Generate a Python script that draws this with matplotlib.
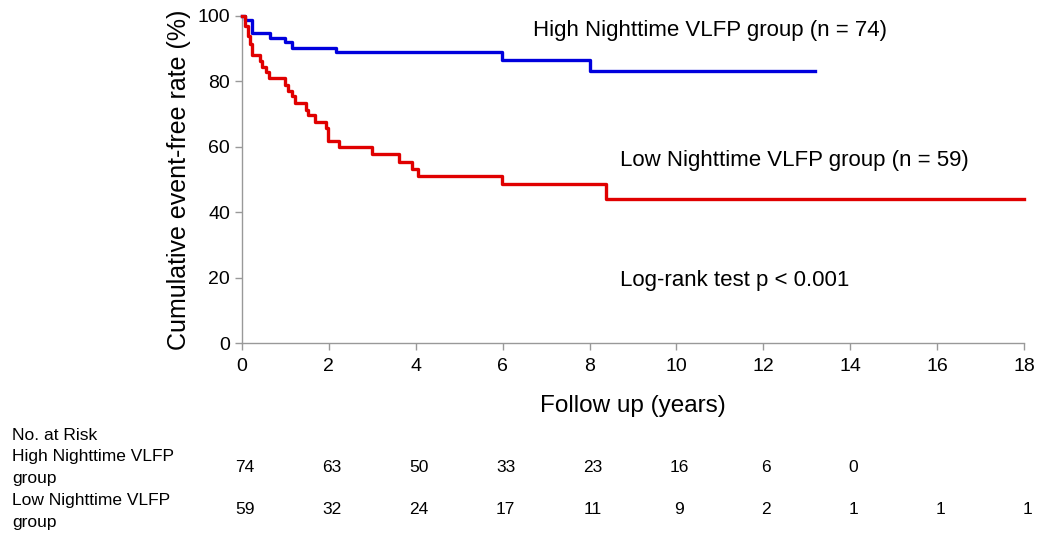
import matplotlib
matplotlib.use("Agg")
import matplotlib.pyplot as plt
import matplotlib.transforms as mtransforms

plt.rcParams['font.family'] = ['Liberation Sans', 'DejaVu Sans']

# Kaplan-Meier step data (time in years, event-free %)
high_times = [0, 0.06, 0.24, 0.65, 0.99, 1.14, 2.16, 5.98, 8.0]
high_surv = [100, 98.8, 94.7, 93.2, 91.9, 90.3, 89.0, 86.5, 83.1]
high_end = 13.18

low_times = [0, 0.06, 0.14, 0.18, 0.22, 0.41, 0.47, 0.55, 0.62, 0.98, 1.07, 1.14,
             1.23, 1.48, 1.52, 1.69, 1.93, 1.98, 2.23, 2.99, 3.62, 3.91, 4.06, 5.98, 8.38]
low_surv = [100, 97.0, 93.9, 91.4, 88.0, 86.3, 84.5, 82.9, 80.9, 78.9, 77.1, 75.4,
            73.4, 71.3, 69.6, 67.6, 65.6, 61.7, 59.8, 57.9, 55.5, 53.3, 51.0, 48.7, 44.1]
low_end = 18.0

x_ticks = [0, 2, 4, 6, 8, 10, 12, 14, 16, 18]
y_ticks = [0, 20, 40, 60, 80, 100]

risk_times_high = [0, 2, 4, 6, 8, 10, 12, 14]
risk_high = [74, 63, 50, 33, 23, 16, 6, 0]
risk_times_low = [0, 2, 4, 6, 8, 10, 12, 14, 16, 18]
risk_low = [59, 32, 24, 17, 11, 9, 2, 1, 1, 1]

high_label = "High Nighttime VLFP group (n = 74)"
low_label = "Low Nighttime VLFP group (n = 59)"
test_label = "Log-rank test p < 0.001"

W, H = 1040, 534
fig = plt.figure(figsize=(W / 100, H / 100), dpi=100)
ax = fig.add_axes([242 / W, 1 - 343 / H, (1024 - 242) / W, (343 - 16) / H])

blue = '#0000DD'
red = '#E00000'
ax.step(high_times + [high_end], high_surv + [high_surv[-1]], where='post',
        color=blue, lw=2.4, clip_on=False, zorder=3)
ax.step(low_times + [low_end], low_surv + [low_surv[-1]], where='post',
        color=red, lw=2.4, clip_on=False, zorder=3)

ax.set_xlim(0, 18)
ax.set_ylim(0, 100)
ax.set_xticks(x_ticks)
ax.set_yticks(y_ticks)
ax.tick_params(axis='both', labelsize=14, color='#999999', length=5, width=1, direction='out')
ax.tick_params(axis='x', pad=6)
for s in ['top', 'right']:
    ax.spines[s].set_visible(False)
for s in ['left', 'bottom']:
    ax.spines[s].set_color('#999999')
    ax.spines[s].set_linewidth(1)

ax.set_ylabel("Cumulative event-free rate (%)", fontsize=18, labelpad=5)
ax.set_xlabel("Follow up (years)", fontsize=17.5, labelpad=14)

ax.text(6.7, 95.7, high_label, fontsize=16, ha='left', va='center')
ax.text(8.71, 55.8, low_label, fontsize=16, ha='left', va='center')
ax.text(8.71, 19.2, test_label, fontsize=16, ha='left', va='center')

# Number at risk table
trans = mtransforms.blended_transform_factory(ax.transData, fig.transFigure)
fs_tab = 12.5
fig.text(12.5 / W, 1 - 436 / H, "No. at Risk", fontsize=fs_tab, ha='left', va='center')
fig.text(12.5 / W, 1 - 457 / H, "High Nighttime VLFP", fontsize=fs_tab, ha='left', va='center')
fig.text(12.5 / W, 1 - 479 / H, "group", fontsize=fs_tab, ha='left', va='center')
fig.text(12.5 / W, 1 - 500 / H, "Low Nighttime VLFP", fontsize=fs_tab, ha='left', va='center')
fig.text(12.5 / W, 1 - 522 / H, "group", fontsize=fs_tab, ha='left', va='center')
for t, n in zip(risk_times_high, risk_high):
    ax.text(t + 0.07, 1 - 468 / H, str(n), transform=trans, fontsize=fs_tab, ha='center', va='center')
for t, n in zip(risk_times_low, risk_low):
    ax.text(t + 0.07, 1 - 510 / H, str(n), transform=trans, fontsize=fs_tab, ha='center', va='center')

fig.savefig("out.png", dpi=100)
